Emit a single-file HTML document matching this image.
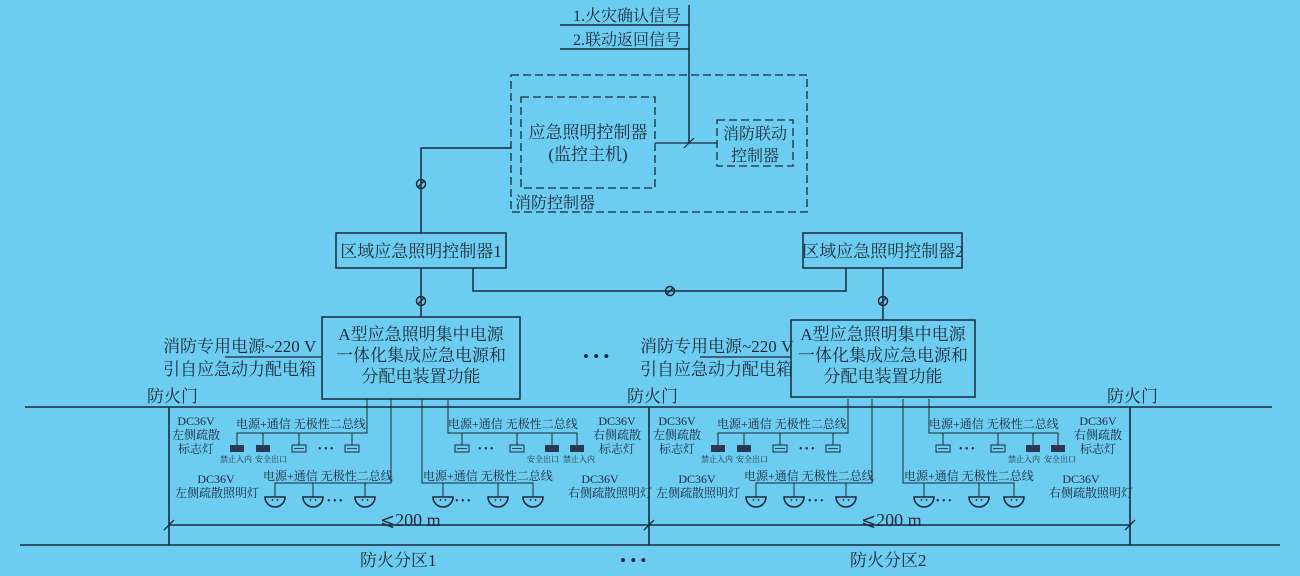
<!DOCTYPE html>
<html><head><meta charset="utf-8"><style>
html,body{margin:0;padding:0;background:#6dcdf1;}
svg{display:block;}
text{font-family:"Liberation Serif","Noto Serif CJK SC","Noto Sans CJK SC",serif;fill:#1c2a3a;}
.dj{font-family:"DejaVu Serif","DejaVu Sans",serif;}
</style></head><body>
<svg width="1300" height="576" viewBox="0 0 1300 576" xmlns="http://www.w3.org/2000/svg">
<defs>
<g id="sym"><circle r="4.5" fill="none" stroke="#1c2a3a" stroke-width="1.5"/><line x1="-3" y1="3" x2="3" y2="-3" stroke="#1c2a3a" stroke-width="1.5"/></g>
<g id="lamp"><path d="M-10,0 h20 a10,10 0 0 1 -20,0z" fill="none" stroke="#1c2a3a" stroke-width="1.6"/><circle cx="-2.5" cy="3" r="0.9" fill="#1c2a3a"/><circle cx="2.5" cy="3" r="0.9" fill="#1c2a3a"/></g>
<g id="sf"><rect x="-7" y="0" width="14" height="7" fill="#2a3a50"/></g>
<g id="so"><rect x="-7" y="0" width="14" height="7" fill="none" stroke="#1c2a3a" stroke-width="1"/><line x1="-5" y1="3.5" x2="5" y2="3.5" stroke="#1c2a3a" stroke-width="0.8"/></g>
<g id="zone" stroke="#1c2a3a" stroke-width="1" fill="none">
 <path d="M367,399V433H237V445M263,433V445M299,433V445M352,433V445"/>
 <path d="M448,399V433H577V445M462,433V445M517,433V445M552,433V445"/>
 <path d="M391,399V483H275V497M313,483V497M365,483V497"/>
 <path d="M422,399V483H533V497M443,483V497M498,483V497"/>
</g>
</defs>
<g stroke="#1c2a3a" fill="none">
 <path d="M689,5V143M560,25H689M560,49H689" stroke-width="1.5"/>
 <path d="M655,143H717" stroke-width="1.2"/>
 <line x1="684" y1="148" x2="694" y2="138" stroke-width="1.2"/>
 <rect x="511" y="75" width="296" height="137" stroke-width="1.3" stroke-dasharray="8,4"/>
 <rect x="521" y="97" width="134" height="91" stroke-width="1.3" stroke-dasharray="8,4"/>
 <rect x="717" y="120" width="76" height="46" stroke-width="1.3" stroke-dasharray="8,4"/>
 <path d="M511,148H421V233" stroke-width="1.5"/>
 <rect x="336" y="233" width="170" height="35" stroke-width="1.5"/>
 <rect x="803" y="233" width="159" height="35" stroke-width="1.5"/>
 <path d="M421,268V317M473,268V291H846V268M883,268V320" stroke-width="1.5"/>
 <rect x="322" y="317" width="198" height="82" stroke-width="1.5"/>
 <rect x="791" y="320" width="184" height="77" stroke-width="1.5"/>
 <path d="M225,357H322M700,357H791" stroke-width="1.3"/>
 <path d="M25,407H1272M20,545H1280M169,407V545M649,407V545M1130,407V545" stroke-width="1.6"/>
 <path d="M169,525H1130" stroke-width="1.5"/>
 <path d="M164,530L174,520M644,530L654,520M1125,530L1135,520" stroke-width="1.3"/>
</g>
<use href="#sym" x="421" y="184"/><use href="#sym" x="421" y="301"/><use href="#sym" x="670" y="291"/><use href="#sym" x="883" y="301"/>
<g font-size="16">
<text x="573" y="21">1.火灾确认信号</text>
<text x="573" y="45">2.联动返回信号</text>
<text x="588" y="138" text-anchor="middle" font-size="17">应急照明控制器</text>
<text x="588" y="160" text-anchor="middle" font-size="17">(监控主机)</text>
<text x="755" y="139" text-anchor="middle">消防联动</text>
<text x="755" y="161" text-anchor="middle">控制器</text>
<text x="515" y="208">消防控制器</text>
<text x="421" y="257" text-anchor="middle" font-size="17">区域应急照明控制器1</text>
<text x="883" y="257" text-anchor="middle" font-size="17">区域应急照明控制器2</text>
<g font-size="17" text-anchor="middle">
<text x="421" y="340">A型应急照明集中电源</text><text x="421" y="361">一体化集成应急电源和</text><text x="421" y="382">分配电装置功能</text>
<text x="883" y="340">A型应急照明集中电源</text><text x="883" y="361">一体化集成应急电源和</text><text x="883" y="382">分配电装置功能</text>
</g>
<g font-size="17">
<text x="163" y="352">消防专用电源~220 V</text><text x="163" y="375">引自应急动力配电箱</text>
<text x="640" y="352">消防专用电源~220 V</text><text x="640" y="375">引自应急动力配电箱</text>
<text x="147" y="402">防火门</text><text x="627" y="402">防火门</text><text x="1107" y="402">防火门</text>
<text x="583" y="362">• • •</text>
<text x="620" y="566">• • •</text>
<text x="360" y="566">防火分区1</text><text x="850" y="566">防火分区2</text>
<text x="380" y="526" font-size="18"><tspan class="dj">⩽</tspan>200 m</text><text x="861" y="526" font-size="18"><tspan class="dj">⩽</tspan>200 m</text>
</g>
</g>
<use href="#zone"/><use href="#zone" x="481"/>
<g id="zd">
<use href="#sf" x="237" y="445"/><use href="#sf" x="263" y="445"/><use href="#so" x="299" y="445"/><use href="#so" x="352" y="445"/>
<use href="#so" x="462" y="445"/><use href="#so" x="517" y="445"/><use href="#sf" x="552" y="445"/><use href="#sf" x="577" y="445"/>
<use href="#lamp" x="275" y="497"/><use href="#lamp" x="313" y="497"/><use href="#lamp" x="365" y="497"/>
<use href="#lamp" x="443" y="497"/><use href="#lamp" x="498" y="497"/><use href="#lamp" x="533" y="497"/>
<g font-size="12">
<text x="318" y="452" font-size="10">• • •</text><text x="478" y="452" font-size="10">• • •</text>
<text x="327" y="504" font-size="10">• • •</text><text x="455" y="504" font-size="10">• • •</text>
<text x="236" y="428">电源+通信 无极性二总线</text>
<text x="263" y="480">电源+通信 无极性二总线</text>
<text x="448" y="428">电源+通信 无极性二总线</text>
<text x="423" y="480">电源+通信 无极性二总线</text>
<text x="196" y="425" text-anchor="middle">DC36V</text><text x="196" y="439" text-anchor="middle">左侧疏散</text><text x="196" y="453" text-anchor="middle">标志灯</text>
<text x="216" y="483" text-anchor="middle">DC36V</text><text x="217" y="497" text-anchor="middle">左侧疏散照明灯</text>
<text x="617" y="425" text-anchor="middle">DC36V</text><text x="617" y="439" text-anchor="middle">右侧疏散</text><text x="617" y="453" text-anchor="middle">标志灯</text>
<text x="600" y="483" text-anchor="middle">DC36V</text><text x="610" y="497" text-anchor="middle">右侧疏散照明灯</text>
</g>
</g>
<use href="#zd" x="481"/>
<g font-size="8" text-anchor="middle">
<text x="236" y="462">禁止入内</text><text x="271" y="462">安全出口</text>
<text x="543" y="462">安全出口</text><text x="579" y="462">禁止入内</text>
<text x="717" y="462">禁止入内</text><text x="752" y="462">安全出口</text>
<text x="1024" y="462">禁止入内</text><text x="1060" y="462">安全出口</text>
</g>
</svg>
</body></html>
